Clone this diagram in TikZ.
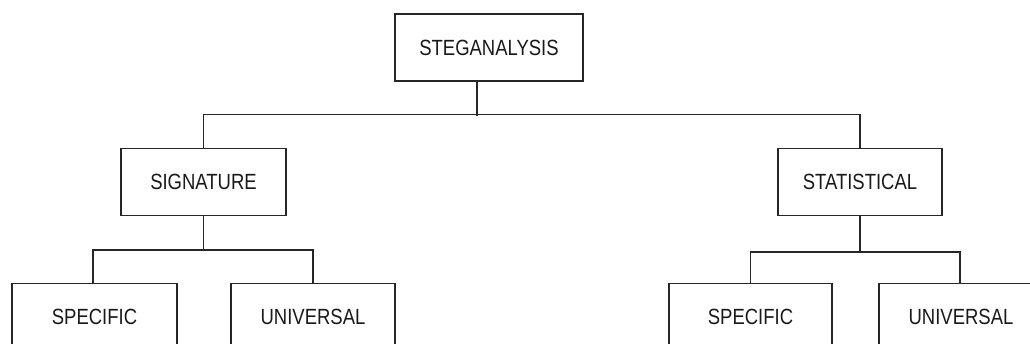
\documentclass[tikz,border=0pt]{standalone}
\usepackage{fontspec}
\newfontfamily\boxfont[FakeStretch=0.84]{Liberation Sans}
\usepackage{tikz}

\begin{document}
\begin{tikzpicture}[x=1pt,y=-1pt,line width=1.2pt,
  box/.style={draw=black!85,rectangle,inner sep=0pt,minimum height=67pt,
    text=black!90,font=\boxfont\fontsize{22}{26}\selectfont}]
\useasboundingbox (0,0) rectangle (1030,344);
\clip (0,0) rectangle (1030,344);
\node[box,minimum width=188pt] (steg) at (489, 47.5) {STEGANALYSIS};
\node[box,minimum width=165pt] (sig) at (203.5, 182) {SIGNATURE};
\node[box,minimum width=164pt] (stat) at (860, 182) {STATISTICAL};
\node[box,minimum width=165pt] (sigSpec) at (94.5, 317) {SPECIFIC};
\node[box,minimum width=164pt] (sigUni) at (313, 317) {UNIVERSAL};
\node[box,minimum width=163pt] (statSpec) at (750.5, 317) {SPECIFIC};
\node[box,minimum width=164pt] (statUni) at (961, 317) {UNIVERSAL};
\draw[draw=black!85] ([xshift=-12pt]steg.south) -- ++(0,34);
\draw[draw=black!85] (sig.north) -- ++(0,-33) -| (stat.north);
\draw[draw=black!85] (sig.south) -- ++(0,34) -| ([xshift=-1.5pt]sigSpec.north);
\draw[draw=black!85] (sig.south) ++(0,34) -| (sigUni.north);
\draw[draw=black!85] (stat.south) -- ++(0,36) -| (statSpec.north);
\draw[draw=black!85] (stat.south) ++(0,36) -| ([xshift=-1pt]statUni.north);
\end{tikzpicture}
\end{document}
